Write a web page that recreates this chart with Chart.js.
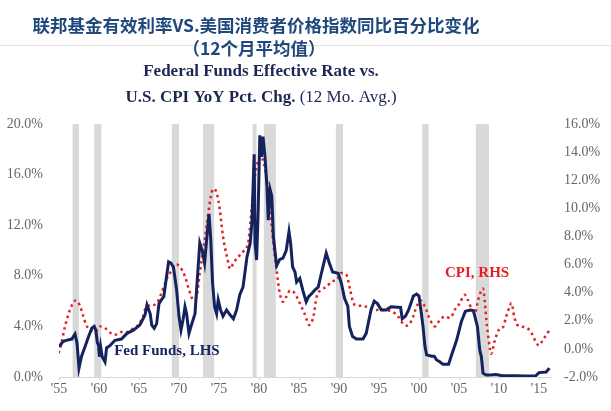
<!DOCTYPE html>
<html>
<head>
<meta charset="utf-8">
<script src="https://cdn.jsdelivr.net/npm/chart.js@4/dist/chart.umd.min.js"></script>
<style>
  body { margin: 0; background: #fff; }
</style>
</head>
<body>
<canvas id="grafico" width="611" height="411"></canvas>
<script>
// Fed Funds efectiva (eje izquierdo, %)
var fedYears = [1955.0, 1955.5, 1955.9, 1956.6, 1957.0, 1957.25, 1957.5, 1957.8, 1958.25, 1958.7, 1959.1, 1959.4, 1959.6, 1959.8, 1959.95, 1960.05, 1960.2, 1960.4, 1960.75, 1960.95, 1961.4, 1962.0, 1962.8, 1963.5, 1964.3, 1965.1, 1965.75, 1966.0, 1966.4, 1966.6, 1966.9, 1967.2, 1967.5, 1967.8, 1968.1, 1968.5, 1968.7, 1969.0, 1969.3, 1969.7, 1970.0, 1970.25, 1970.5, 1970.75, 1970.95, 1971.25, 1971.6, 1972.0, 1972.2, 1972.6, 1972.9, 1973.2, 1973.45, 1973.75, 1973.95, 1974.2, 1974.45, 1974.7, 1974.9, 1975.2, 1975.5, 1975.95, 1976.4, 1976.8, 1977.2, 1977.6, 1978.0, 1978.5, 1978.9, 1979.1, 1979.4, 1979.5, 1979.7, 1979.9, 1980.1, 1980.3, 1980.5, 1980.75, 1981.0, 1981.15, 1981.4, 1981.6, 1981.8, 1982.2, 1982.6, 1983.0, 1983.4, 1983.75, 1983.95, 1984.2, 1984.5, 1984.7, 1985.1, 1985.5, 1985.9, 1986.2, 1986.6, 1987.0, 1987.4, 1987.8, 1988.4, 1988.8, 1989.2, 1989.9, 1990.3, 1990.7, 1991.1, 1991.3, 1991.7, 1992.2, 1993.0, 1993.4, 1994.0, 1994.4, 1994.8, 1995.3, 1995.9, 1996.5, 1997.7, 1997.9, 1998.3, 1998.7, 1999.3, 1999.7, 2000.0, 2000.3, 2000.5, 2000.75, 2000.95, 2001.6, 2001.9, 2002.2, 2002.6, 2003.0, 2003.7, 2004.0, 2004.7, 2005.3, 2005.8, 2006.4, 2006.8, 2007.3, 2007.6, 2007.8, 2008.0, 2008.4, 2009.0, 2009.6, 2010.4, 2011.3, 2012.1, 2013.4, 2014.6, 2015.0, 2015.9, 2016.3];
var fedRate = [2.4, 2.8, 2.9, 3.0, 3.4, 2.7, 0.7, 1.6, 2.4, 3.2, 3.85, 4.0, 3.7, 2.7, 2.5, 1.6, 2.4, 1.6, 1.2, 2.3, 2.5, 2.9, 3.0, 3.45, 3.7, 4.1, 4.9, 5.7, 5.0, 4.1, 3.85, 4.2, 5.8, 6.1, 6.35, 8.2, 9.1, 9.0, 8.7, 6.9, 4.8, 3.7, 4.5, 5.55, 5.0, 3.45, 4.2, 5.0, 6.9, 10.6, 10.0, 9.0, 10.8, 12.9, 11.1, 7.4, 5.55, 5.0, 6.1, 5.3, 4.8, 5.3, 4.9, 4.6, 5.3, 6.5, 7.1, 9.5, 10.6, 12.1, 17.6, 10.6, 9.25, 13.2, 19.1, 17.4, 19.0, 17.4, 15.0, 12.4, 14.8, 14.3, 11.1, 8.8, 9.3, 9.4, 10.0, 11.5, 10.6, 8.7, 8.3, 7.5, 7.8, 6.8, 5.95, 6.35, 6.6, 6.9, 7.1, 8.2, 9.8, 9.0, 8.3, 8.2, 7.4, 6.2, 5.6, 4.0, 3.2, 3.0, 3.0, 3.45, 5.3, 6.0, 5.8, 5.3, 5.3, 5.55, 5.5, 4.6, 4.8, 5.3, 6.4, 6.55, 6.4, 5.0, 4.0, 2.4, 1.75, 1.65, 1.65, 1.35, 1.2, 1.0, 1.0, 1.6, 2.9, 4.4, 5.2, 5.3, 5.25, 4.0, 2.1, 1.6, 0.3, 0.15, 0.15, 0.2, 0.1, 0.1, 0.1, 0.08, 0.1, 0.35, 0.4, 0.7];

// IPC interanual, media 12 meses (eje derecho, %)
var cpiYears = [1954.95, 1955.2, 1955.75, 1956.2, 1956.6, 1957.1, 1957.6, 1958.0, 1958.4, 1958.9, 1959.5, 1960.1, 1960.7, 1961.4, 1962.0, 1962.8, 1963.7, 1964.3, 1964.9, 1965.5, 1965.9, 1966.6, 1967.2, 1967.8, 1968.4, 1969.1, 1969.7, 1970.1, 1970.75, 1971.2, 1971.8, 1972.2, 1972.6, 1973.0, 1973.5, 1973.9, 1974.3, 1974.7, 1975.1, 1975.5, 1976.0, 1976.4, 1976.8, 1977.4, 1978.0, 1978.7, 1979.1, 1979.5, 1979.9, 1980.2, 1980.6, 1981.0, 1981.4, 1981.8, 1982.2, 1982.6, 1983.0, 1983.4, 1983.9, 1984.4, 1984.9, 1985.3, 1985.7, 1986.3, 1986.8, 1987.2, 1987.8, 1988.5, 1989.1, 1989.7, 1990.3, 1990.9, 1991.4, 1991.8, 1992.2, 1993.0, 1993.9, 1994.5, 1995.1, 1995.9, 1996.7, 1997.4, 1998.0, 1998.5, 1999.1, 1999.7, 2000.2, 2000.75, 2001.4, 2002.0, 2002.6, 2003.2, 2003.9, 2004.5, 2005.1, 2005.7, 2006.1, 2006.6, 2007.0, 2007.4, 2008.0, 2008.2, 2008.5, 2008.9, 2009.0, 2009.5, 2010.1, 2010.5, 2010.9, 2011.4, 2011.55, 2011.9, 2012.3, 2013.2, 2013.8, 2014.2, 2014.6, 2015.0, 2015.5, 2016.2, 2016.4];
var cpiYoY = [-0.3, 0.15, 1.6, 2.5, 3.1, 3.45, 3.1, 2.4, 1.7, 1.35, 1.2, 1.6, 1.5, 1.15, 1.0, 1.2, 1.2, 1.5, 1.7, 2.3, 3.0, 3.1, 3.25, 3.95, 4.9, 5.6, 6.0, 5.85, 5.15, 4.3, 3.5, 3.7, 5.4, 7.0, 8.9, 10.6, 11.4, 11.1, 9.9, 8.0, 6.55, 5.7, 6.1, 6.55, 6.9, 7.75, 10.1, 12.3, 13.4, 13.7, 13.2, 11.9, 9.9, 7.5, 5.6, 3.95, 3.35, 3.7, 4.15, 4.0, 3.5, 3.0, 2.5, 1.7, 2.3, 3.7, 4.2, 4.45, 4.8, 4.9, 5.4, 5.3, 4.2, 3.25, 3.1, 3.05, 2.9, 2.75, 2.8, 2.75, 2.65, 2.3, 1.8, 1.65, 2.05, 3.0, 3.45, 3.0, 2.05, 1.6, 2.05, 2.3, 2.2, 2.8, 3.25, 3.85, 3.5, 2.8, 2.55, 3.5, 4.3, 3.5, 1.6, -0.1, -0.35, 0.65, 1.45, 1.55, 2.3, 3.1, 3.25, 2.3, 1.7, 1.55, 1.35, 1.0, 0.5, 0.25, 0.65, 1.25, 1.45];

// Recesiones (inicio, fin)
var recStart = [1956.7, 1959.4, 1969.1, 1973.0, 1979.2, 1980.6, 1989.6, 2000.4, 2007.1];
var recEnd   = [1957.5, 1960.3, 1970.0, 1974.4, 1979.7, 1982.1, 1990.5, 2001.2, 2008.75];

var xTicks = [1955, 1960, 1965, 1970, 1975, 1980, 1985, 1990, 1995, 2000, 2005, 2010, 2015];

var serif = '"Liberation Serif", "Times New Roman", serif';

function puntos(xs, ys) {
    return xs.map(function (x, i) { return { x: x, y: ys[i] }; });
}

// Barras grises de recesion
var recesiones = {
    id: 'recesiones',
    beforeDatasetsDraw: function (chart) {
        var ctx = chart.ctx, x = chart.scales.x, y = chart.scales.y;
        var top = y.getPixelForValue(20), bottom = y.getPixelForValue(0);
        ctx.save();
        ctx.fillStyle = '#d9d9d9';
        for (var i = 0; i < recStart.length; i++) {
            var a = x.getPixelForValue(recStart[i]), b = x.getPixelForValue(recEnd[i]);
            ctx.fillRect(a, top, b - a, bottom - top);
        }
        ctx.restore();
    }
};

// Titulos y etiquetas de series
var textos = {
    id: 'textos',
    afterDraw: function (chart) {
        var ctx = chart.ctx, x = chart.scales.x;
        ctx.save();
        ctx.strokeStyle = '#e4e4e4';
        ctx.lineWidth = 1;
        ctx.beginPath(); ctx.moveTo(0, 45.5); ctx.lineTo(611, 45.5); ctx.stroke();

        ctx.textBaseline = 'middle';
        ctx.textAlign = 'center';
        ctx.fillStyle = '#1f497d';
        ctx.font = 'bold 17.5px "Noto Sans CJK SC", sans-serif';
        ctx.fillText('联邦基金有效利率VS.美国消费者价格指数同比百分比变化', 256, 25);
        ctx.fillText('（12个月平均值）', 254, 48);

        ctx.fillStyle = '#1b2654';
        ctx.font = 'bold 17px ' + serif;
        ctx.fillText('Federal Funds Effective Rate vs.', 261, 72);
        var p1 = 'U.S. CPI YoY Pct. Chg. ', p2 = '(12 Mo. Avg.)';
        ctx.font = 'bold 17px ' + serif;
        var w1 = ctx.measureText(p1).width;
        ctx.font = '17px ' + serif;
        var w2 = ctx.measureText(p2).width;
        var x0 = 261 - (w1 + w2) / 2;
        ctx.textAlign = 'left';
        ctx.font = 'bold 17px ' + serif;
        ctx.fillText(p1, x0, 98);
        ctx.font = '17px ' + serif;
        ctx.fillText(p2, x0 + w1, 98);

        ctx.font = 'bold 15px ' + serif;
        ctx.fillStyle = '#14235e';
        ctx.fillText('Fed Funds, LHS', x.getPixelForValue(1961.9), chart.scales.y.getPixelForValue(2.05));
        ctx.fillStyle = '#e31e24';
        ctx.fillText('CPI, RHS', x.getPixelForValue(2003.25), chart.scales.y1.getPixelForValue(5.4));
        ctx.restore();
    }
};

var config = {
    type: 'line',
    data: {
        datasets: [{
            label: 'Fed Funds, LHS',
            data: puntos(fedYears, fedRate),
            yAxisID: 'y',
            borderColor: '#14235e',
            borderWidth: 3,
            pointRadius: 0,
            tension: 0
        }, {
            label: 'CPI, RHS',
            data: puntos(cpiYears, cpiYoY),
            yAxisID: 'y1',
            borderColor: '#e31e24',
            borderWidth: 2.5,
            borderDash: [2.5, 3.5],
            pointRadius: 0,
            cubicInterpolationMode: 'monotone'
        }]
    },
    options: {
        responsive: false,
        animation: false,
        layout: { padding: { top: 124, left: 7, right: 11, bottom: 9 } },
        plugins: { legend: { display: false }, tooltip: { enabled: false } },
        scales: {
            x: {
                type: 'linear',
                min: 1955,
                max: 2016.5,
                afterBuildTicks: function (axis) {
                    axis.ticks = xTicks.map(function (v) { return { value: v }; });
                },
                afterFit: function (axis) { axis.height = 25; },
                ticks: {
                    color: '#666666',
                    font: { family: serif, size: 14 },
                    padding: 1,
                    maxRotation: 0,
                    autoSkip: false,
                    callback: function (v) { return "'" + String(v).slice(2); }
                },
                grid: { drawOnChartArea: false, tickLength: 3, color: '#d9d9d9' },
                border: { color: '#d9d9d9' }
            },
            y: {
                position: 'left',
                min: 0,
                max: 20,
                afterFit: function (axis) { axis.width = 52; },
                ticks: {
                    stepSize: 4,
                    color: '#666666',
                    font: { family: serif, size: 14 },
                    padding: 16,
                    callback: function (v) { return v.toFixed(1) + '%'; }
                },
                grid: { display: false, drawTicks: false },
                border: { display: false }
            },
            y1: {
                position: 'right',
                min: -2,
                max: 16,
                afterFit: function (axis) { axis.width = 49; },
                ticks: {
                    stepSize: 2,
                    color: '#666666',
                    font: { family: serif, size: 14 },
                    padding: 13,
                    callback: function (v) { return v.toFixed(1) + '%'; }
                },
                grid: { display: false, drawTicks: false },
                border: { display: false }
            }
        }
    },
    plugins: [recesiones, textos]
};

var grafico = new Chart(document.getElementById('grafico'), config);
</script>
</body>
</html>
